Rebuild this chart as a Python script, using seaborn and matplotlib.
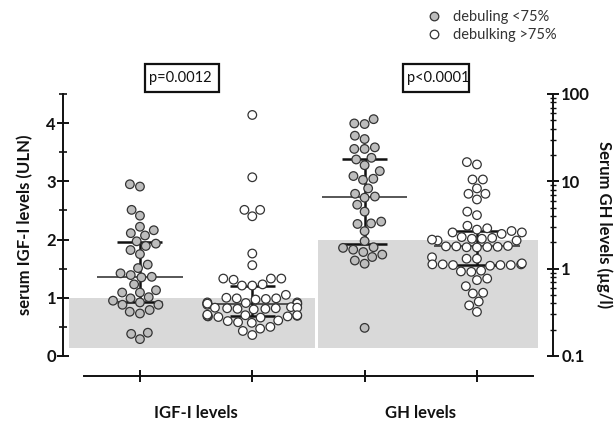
import numpy as np
import pandas as pd
import matplotlib
matplotlib.use("Agg")
import matplotlib.pyplot as plt
import seaborn as sns
from matplotlib.lines import Line2D
from matplotlib.patches import Rectangle
from matplotlib.collections import PathCollection
from matplotlib.ticker import LogLocator, NullFormatter, MultipleLocator

# ---------------- data ----------------
igf_lt75 = [2.95, 2.91, 2.51, 2.41, 2.22, 2.16, 2.11, 2.07, 1.97, 1.93,
            1.89, 1.82, 1.75, 1.57, 1.51, 1.42, 1.39, 1.36, 1.35, 1.23,
            1.13, 1.09, 1.09, 1.01, 0.99, 0.95, 0.92, 0.88, 0.88, 0.79,
            0.76, 0.73, 0.40, 0.38, 0.29]
igf_gt75 = [4.14, 3.07, 2.51, 2.40, 2.51, 1.76, 1.56, 1.33, 1.33, 1.31,
            1.33, 1.23, 1.21, 1.21, 1.05,
            0.99, 0.98, 1.00, 0.97, 0.99,
            0.92, 0.90, 0.91, 0.89, 0.90, 0.88, 0.92, 0.90,
            0.83, 0.82, 0.81, 0.84, 0.80, 0.82, 0.83, 0.81,
            0.70, 0.68, 0.69, 0.67, 0.70, 0.66, 0.68, 0.69, 0.71,
            0.60, 0.58, 0.61, 0.57, 0.50, 0.47, 0.43, 0.36]
gh_lt75 = [51.5, 45.3, 46.0, 33.3, 30.5, 24.5, 23.5, 23.5, 17.8, 18.6,
           15.3, 13.1, 11.5, 10.4, 10.7, 8.3, 6.7, 6.5, 7.2, 5.4,
           4.5, 3.46, 3.25, 3.3, 2.69, 2.07, 1.73, 1.55, 1.65, 1.76,
           1.45, 1.24, 1.14, 1.36, 0.21]
gh_gt75 = [16.6, 15.6, 10.5, 10.5, 8.3, 7.2, 7.2, 6.2, 4.5, 4.1,
           3.1, 2.9, 2.8, 2.6, 2.6, 2.5, 2.7,
           2.2, 2.25, 2.1, 2.15, 2.3, 2.2, 2.1,
           1.8, 1.75, 1.78, 1.76, 1.82, 1.77, 1.8,
           1.35, 1.3, 1.3,
           1.12, 1.1, 1.12, 1.1, 1.08, 1.1, 1.12, 1.15,
           0.93, 0.95, 0.92,
           0.77, 0.74, 0.63, 0.53, 0.52, 0.42, 0.38, 0.32]
group_labels = ["IGF-I levels", "GH levels"]
legend_labels = ["debuling <75%", "debulking >75%"]
p_texts = ["p=0.0012", "p<0.0001"]
ref_top = [1.0, 2.0]      # grey reference areas (left-axis units)
ref_bottom = 0.14
left_ticks = [0, 1, 2, 3, 4]
right_ticks = [0.1, 1, 10, 100]
right_tick_labels = ["0.1", "1", "10", "100"]

# ---------------- style ----------------
sns.set_theme(style="ticks")
plt.rcParams["font.family"] = ["Lato", "DejaVu Sans"]
INK = "#111111"
GREY_DOT = "#bdbdbd"
palette = {"lt": GREY_DOT, "gt": "white"}
DOT = 6.2

W, H = 616, 422
fig = plt.figure(figsize=(W / 100, H / 100), dpi=100)
fig.patch.set_facecolor("white")
ax = fig.add_axes([63 / W, 66 / H, 490 / W, 262 / H])
ax2 = ax.twinx()
ax2.set_yscale("log")
ax.set_ylim(0, 4.5)
ax2.set_ylim(0.1, 100)
XLIM = (-0.685, 3.677)
ax.set_xlim(*XLIM)

# grey reference areas
box_left = [-0.632, 1.585]
box_right = [1.558, 3.543]
centers = [(l + r) / 2 for l, r in zip(box_left, box_right)]
widths = [r - l for l, r in zip(box_left, box_right)]
ax.bar(centers, [t - ref_bottom for t in ref_top], bottom=ref_bottom,
       width=widths, color="#d9d9d9", linewidth=0, zorder=0)

# data frames
igf_df = pd.DataFrame({
    "pos": [0] * len(igf_lt75) + [1] * len(igf_gt75),
    "value": igf_lt75 + igf_gt75,
    "grp": ["lt"] * len(igf_lt75) + ["gt"] * len(igf_gt75),
})
gh_df = pd.DataFrame({
    "pos": [2] * len(gh_lt75) + [3] * len(gh_gt75),
    "value": gh_lt75 + gh_gt75,
    "grp": ["lt"] * len(gh_lt75) + ["gt"] * len(gh_gt75),
})

sns.swarmplot(data=igf_df, x="pos", y="value", hue="grp", palette=palette,
              native_scale=True, size=DOT, edgecolor="#333333", linewidth=0.9,
              legend=False, ax=ax, warn_thresh=1)
sns.swarmplot(data=gh_df, x="pos", y="value", hue="grp", palette=palette,
              native_scale=True, size=DOT, edgecolor="#333333", linewidth=0.9,
              legend=False, ax=ax2, warn_thresh=1)
for a in (ax, ax2):
    for c in a.collections:
        if isinstance(c, PathCollection):
            c.set_zorder(3)

# median + IQR (behind the dots)
def stats(a, pos, vals):
    q1, med, q3 = np.percentile(vals, [25, 50, 75])
    a.hlines(med, pos - 0.38, pos + 0.38, color="#3a3a3a", lw=1.2, zorder=2)
    a.vlines(pos, q1, q3, color=INK, lw=1.8, zorder=2)
    a.hlines([q1, q3], pos - 0.2, pos + 0.2, color=INK, lw=1.8, zorder=2)

stats(ax, 0, igf_lt75)
stats(ax, 1, igf_gt75)
stats(ax2, 2, gh_lt75)
stats(ax2, 3, gh_gt75)

ax.set_xlim(*XLIM)
ax.set_ylim(0, 4.5)
ax2.set_ylim(0.1, 100)

# spines
for s in ["top", "right"]:
    ax.spines[s].set_visible(False)
for s in ["top", "left", "bottom"]:
    ax2.spines[s].set_visible(False)
for sp in [ax.spines["left"], ax.spines["bottom"], ax2.spines["right"]]:
    sp.set_linewidth(1.4)
    sp.set_color(INK)
ax.spines["bottom"].set_position(("outward", 14.4))
ax.spines["bottom"].set_bounds(-0.5, 3.5)

# left y ticks
ax.set_yticks(left_ticks, labels=[str(t) for t in left_ticks],
              fontsize=12, fontweight="bold")
ax.yaxis.set_minor_locator(MultipleLocator(0.5))
ax.tick_params(axis="y", which="major", direction="inout", length=8, width=1.4,
               pad=1, color=INK, labelcolor=INK, left=True)
ax.tick_params(axis="y", which="minor", direction="inout", length=5.5, width=1.2,
               color=INK, left=True)

# right y ticks
ax2.set_yticks(right_ticks, labels=right_tick_labels, fontsize=12, fontweight="bold")
ax2.yaxis.set_minor_locator(LogLocator(base=10, subs=np.arange(2, 10)))
ax2.yaxis.set_minor_formatter(NullFormatter())
ax2.tick_params(axis="y", which="major", direction="inout", length=8, width=1.4,
                pad=2, color=INK, labelcolor=INK, right=True)
ax2.tick_params(axis="y", which="minor", direction="inout", length=5, width=1.0,
                color=INK, right=True)

# x ticks
ax.set_xticks([0, 1, 2, 3], labels=[""] * 4)
ax.set_xticks([0.5, 2.5], labels=group_labels, minor=True,
              fontsize=12, fontweight="bold")
ax.tick_params(axis="x", which="major", direction="inout", length=8, width=1.4,
               color=INK, bottom=True)
ax.tick_params(axis="x", which="minor", length=0, pad=21, labelcolor=INK, bottom=True)
ax.set_xlabel("")

# axis labels
ax.set_ylabel("serum IGF-I levels (ULN)", fontsize=12, fontweight="bold",
              color=INK, va="center")
ax.yaxis.set_label_coords((25 - 63) / 490, 0.5)
ax2.set_ylabel("Serum GH levels (µg/l)", fontsize=12, fontweight="bold",
               color=INK, rotation=270, va="center", ha="center")
ax2.yaxis.set_label_coords((604 - 63) / 490, 0.5)

# p-value boxes
for (x0, x1), txt in zip([(145, 219), (403, 469)], p_texts):
    fig.add_artist(Rectangle((x0 / W, 1 - 92 / H), (x1 - x0) / W, 28 / H,
                             transform=fig.transFigure, fill=False,
                             lw=1.6, ec=INK))
    fig.text((x0 + 4) / W, 1 - 78 / H, txt, ha="left", va="center",
             fontsize=10.5, color=INK)

# legend
handles = [Line2D([], [], marker="o", ls="", markersize=6.2,
                  markerfacecolor=c, markeredgecolor="#333333", markeredgewidth=0.9)
           for c in [GREY_DOT, "white"]]
fig.legend(handles, legend_labels, loc="upper left",
           bbox_to_anchor=(427 / W, 1 - 10 / H), frameon=False, fontsize=10.5,
           handlelength=1.0, handletextpad=0.8, labelspacing=0.3,
           borderpad=0, borderaxespad=0, labelcolor="#333333")

fig.savefig("out.png", dpi=100, facecolor="white")
